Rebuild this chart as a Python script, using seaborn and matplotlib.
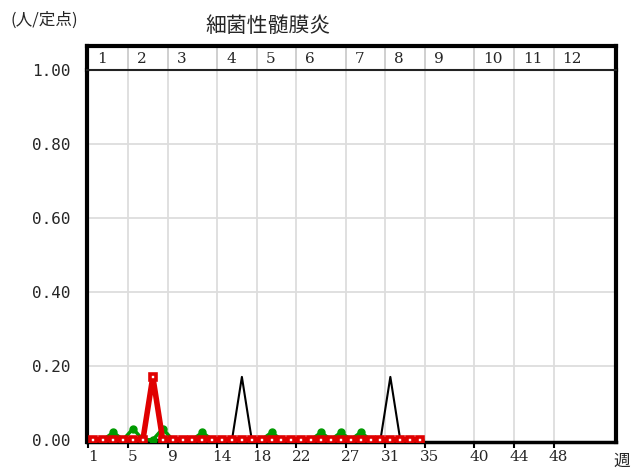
import pandas as pd
import seaborn as sns
import matplotlib.pyplot as plt

# Weekly reports per sentinel site, weeks 1-34
weeks = list(range(1, 35))
this_year = [0, 0, 0, 0, 0, 0, 0, 0, 0, 0, 0, 0, 0, 0, 0, 0.17, 0,
             0, 0, 0, 0, 0, 0, 0, 0, 0, 0, 0, 0, 0, 0.17, 0, 0, 0]
avg_years = [0, 0, 0.02, 0, 0.03, 0, 0, 0.03, 0, 0, 0, 0.02, 0, 0, 0, 0, 0,
             0, 0.02, 0, 0, 0, 0, 0.02, 0, 0.02, 0, 0.02, 0, 0, 0, 0, 0, 0]
last_year = [0, 0, 0, 0, 0, 0, 0.17, 0, 0, 0, 0, 0, 0, 0, 0, 0, 0,
             0, 0, 0, 0, 0, 0, 0, 0, 0, 0, 0, 0, 0, 0, 0, 0, 0]

tick_weeks = [1, 5, 9, 14, 18, 22, 27, 31, 35, 40, 44, 48]
months = ['1', '2', '3', '4', '5', '6', '7', '8', '9', '10', '11', '12']
y_ticks = [0.0, 0.2, 0.4, 0.6, 0.8, 1.0]
y_labels = ['0.00', '0.20', '0.40', '0.60', '0.80', '1.00']

df = pd.DataFrame({'week': weeks, 'this': this_year, 'avg': avg_years, 'last': last_year})

sns.set_style("white")
plt.rcParams['font.family'] = ['Noto Sans CJK JP', 'DejaVu Sans']

fig = plt.figure(figsize=(6.32, 4.72), dpi=100)
ax = fig.add_axes([87/632, 30/472, 529/632, 372/472])
top = fig.add_axes([87/632, 402/472, 529/632, 24/472])

xmin, xmax = 0.35, 53.8

# grid at month boundaries
for w in tick_weeks:
    ax.axvline(w - 0.5, color='#dddddd', lw=1.3, zorder=0)
for y in y_ticks[1:-1]:
    ax.axhline(y, color='#dddddd', lw=1.3, zorder=0)

sns.lineplot(data=df, x='week', y='this', color='black', lw=1.5, ax=ax, zorder=2)
sns.lineplot(data=df, x='week', y='avg', color='#009a00', lw=2.5, marker='o',
             markersize=5, markeredgecolor='#009a00', markeredgewidth=1, ax=ax, zorder=3)
sns.lineplot(data=df, x='week', y='last', color='#e00000', lw=4, marker='s',
             markersize=5, markerfacecolor='white', markeredgecolor='#e00000',
             markeredgewidth=2.6, ax=ax, zorder=4)

ax.set_xlim(xmin, xmax)
ax.set_ylim(-0.006, 1.0)
ax.set_xlabel('')
ax.set_ylabel('')
ax.set_xticks(tick_weeks)
ax.set_xticklabels([str(w) for w in tick_weeks], family='DejaVu Serif', fontsize=11)
ax.set_xticks([w - 0.5 for w in tick_weeks], minor=True)
ax.tick_params(axis='x', which='major', length=0, pad=6)
ax.tick_params(axis='x', which='minor', length=4, width=1.5, color='black', direction='out', bottom=True)
ax.set_yticks(y_ticks)
ax.set_yticklabels(y_labels, family='DejaVu Sans Mono', fontsize=11.5)
ax.tick_params(axis='y', length=0, pad=12)

for s in ['left', 'right']:
    ax.spines[s].set_linewidth(3)
    ax.spines[s].set_color('black')
ax.spines['bottom'].set_linewidth(2.5)
ax.spines['bottom'].set_color('black')
ax.spines['top'].set_visible(False)

# month row on top
top.set_xlim(xmin, xmax)
top.set_ylim(0, 1)
top.set_xticks([])
top.set_yticks([])
for w in tick_weeks[1:]:
    top.axvline(w - 0.5, color='#cccccc', lw=1.3)
for w, m in zip(tick_weeks, months):
    top.text(w - 0.5 + 0.9, 0.45, m, ha='left', va='center', family='DejaVu Serif', fontsize=11)
for s in ['left', 'right', 'top']:
    top.spines[s].set_linewidth(3)
    top.spines[s].set_color('black')
top.spines['bottom'].set_linewidth(1.5)
top.spines['bottom'].set_color('#222222')

fig.text(10/632, 1 - 20/472, '(人/定点)', fontsize=12, va='center', ha='left')
fig.text(268/632, 1 - 26/472, '細菌性髄膜炎', fontsize=15, va='center', ha='center')
fig.text(622/632, 1 - 461/472, '週', fontsize=12, va='center', ha='center')

fig.savefig('out.png', dpi=100)
